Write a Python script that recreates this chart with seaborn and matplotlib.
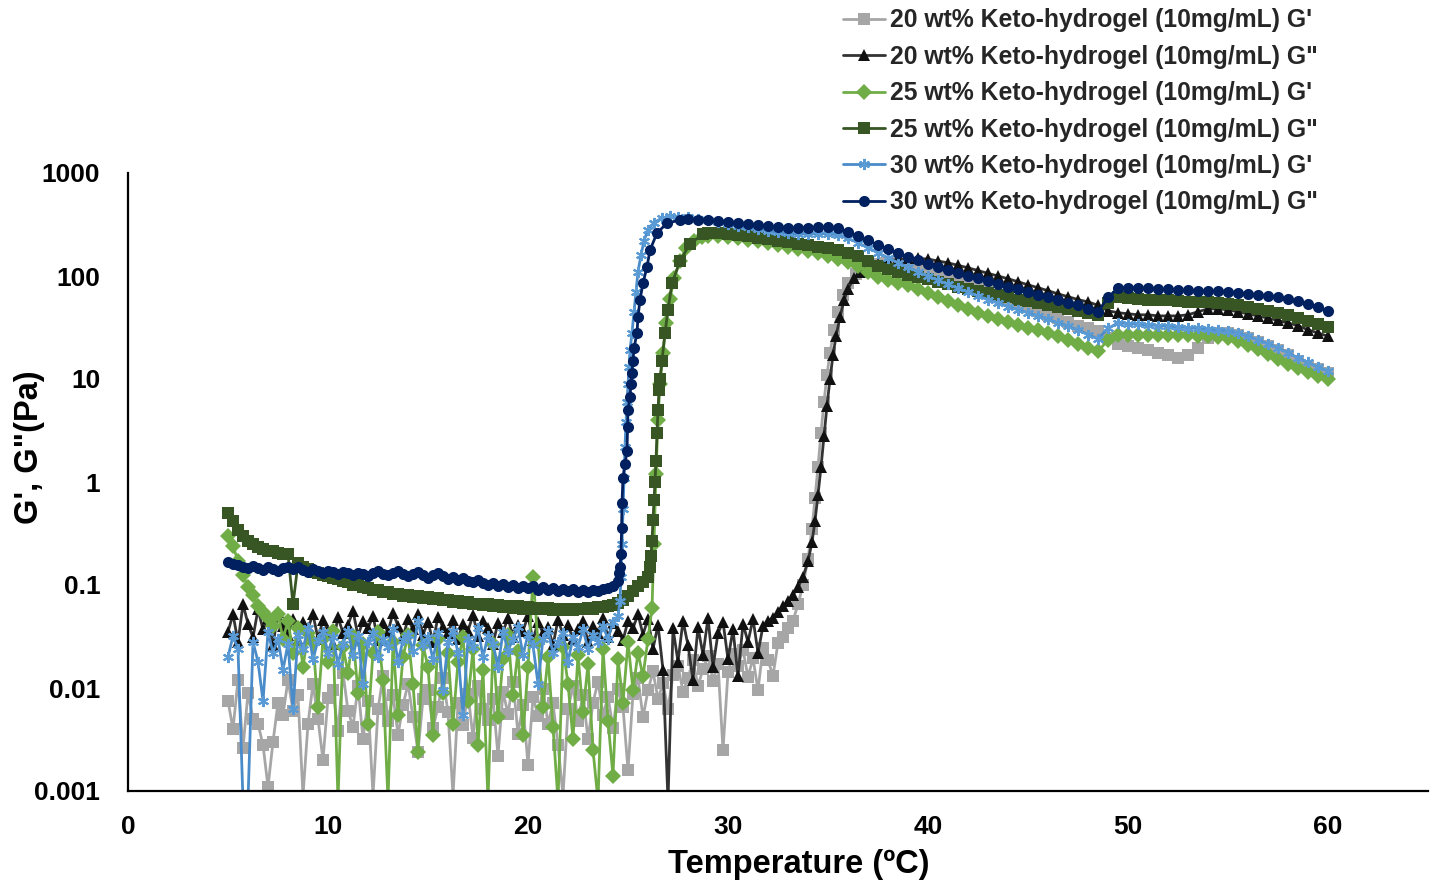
import numpy as np
import seaborn as sns
import matplotlib.pyplot as plt

# G' / G'' temperature sweeps of keto-hydrogels (log scale)
# each series: noisy sol region (0.25 degC step), explicit gelation ramp, gel region (0.5 degC step)

# --- 20 wt% G' ---
g20_p_low = [0.0075, 0.004, 0.012, 0.0026, 0.009, 0.005, 0.0045, 0.0028, 0.0011, 0.003,
             0.0072, 0.0055, 0.012, 0.006, 0.0085, 0.0009, 0.0045, 0.011, 0.005, 0.002,
             0.008, 0.0095, 0.0038, 0.014, 0.006, 0.0042, 0.0105, 0.0032, 0.0075, 0.0009,
             0.0062, 0.013, 0.0048, 0.0085, 0.0035, 0.0068, 0.011, 0.0052, 0.0024, 0.0078,
             0.0095, 0.0041, 0.0065, 0.0125, 0.0058, 0.0009, 0.0072, 0.0044, 0.0088, 0.0033,
             0.0105, 0.0062, 0.0049, 0.0078, 0.0022, 0.0092, 0.0056, 0.0115, 0.0036, 0.0068,
             0.0018, 0.0082, 0.0054, 0.0098, 0.0045, 0.0071, 0.0028, 0.0009, 0.0062, 0.0105,
             0.0048, 0.0085, 0.0032, 0.0072, 0.0115, 0.0055, 0.0082, 0.0041, 0.0098, 0.0065,
             0.0016, 0.0088, 0.0125, 0.0052, 0.0095, 0.0145, 0.0078, 0.0112, 0.0062, 0.0135,
             0.0165, 0.0092, 0.0125, 0.0185, 0.0105, 0.0152, 0.0205, 0.0118, 0.0172, 0.0025,
             0.0142, 0.0215, 0.0165, 0.0235, 0.0128, 0.0195, 0.0095, 0.0245, 0.0185, 0.0132,
             0.0275, 0.0315, 0.0385]
g20_p_ramp_t = [33.25, 33.5, 33.75, 34.0, 34.2, 34.35, 34.5, 34.65, 34.8, 34.95, 35.1,
                35.3, 35.5, 35.75, 36.0, 36.4, 36.8, 37.3, 37.8, 38.4, 39.0]
g20_p_ramp = [0.045, 0.065, 0.1, 0.18, 0.35, 0.7, 1.4, 3.0, 6, 11, 18,
              30, 45, 65, 85, 105, 120, 130, 135, 135, 130]
g20_p_high = [125, 118, 110, 102, 94, 86, 79, 72, 66, 60, 55, 50, 46, 42, 39, 36, 33, 31,
              29, 25, 22, 21, 20, 19, 18, 17, 16, 17, 20, 25, 28, 28, 27, 25, 23, 21, 19,
              17, 15, 13.5, 12.5, 11.5]

# --- 20 wt% G'' ---
g20_pp_low = [0.035, 0.052, 0.028, 0.065, 0.042, 0.031, 0.058, 0.037, 0.048, 0.026,
              0.055, 0.04, 0.033, 0.047, 0.029, 0.044, 0.038, 0.052, 0.03, 0.046,
              0.036, 0.027, 0.049, 0.034, 0.041, 0.056, 0.032, 0.045, 0.038, 0.05,
              0.029, 0.043, 0.035, 0.054, 0.04, 0.031, 0.047, 0.037, 0.052, 0.033,
              0.044, 0.028, 0.049, 0.039, 0.034, 0.046, 0.03, 0.042, 0.036, 0.051,
              0.032, 0.045, 0.038, 0.027, 0.043, 0.035, 0.048, 0.031, 0.041, 0.036,
              0.05, 0.029, 0.044, 0.034, 0.039, 0.026, 0.046, 0.033, 0.041, 0.03,
              0.037, 0.045, 0.028, 0.04, 0.034, 0.048, 0.031, 0.043, 0.036, 0.029,
              0.045, 0.038, 0.052, 0.033, 0.047, 0.024, 0.041, 0.015, 0.0008, 0.038,
              0.018, 0.045, 0.026, 0.012, 0.039, 0.021, 0.048, 0.016, 0.034, 0.044,
              0.019, 0.037, 0.013, 0.042, 0.028, 0.047, 0.022, 0.04, 0.045]
g20_pp_ramp_t = [32.25, 32.5, 32.75, 33.0, 33.25, 33.5, 33.75, 34.0, 34.2, 34.35, 34.5,
                 34.65, 34.8, 34.95, 35.1, 35.25, 35.4, 35.6, 35.8, 36.0, 36.3, 36.6,
                 37.0, 37.5, 38.0, 38.5, 39.0]
g20_pp_ramp = [0.048, 0.055, 0.062, 0.07, 0.08, 0.095, 0.12, 0.17, 0.26, 0.42, 0.75,
               1.4, 2.8, 5.5, 10, 17, 26, 40, 58, 75, 95, 110,
               122, 132, 140, 145, 148]
g20_pp_high = [148, 146, 140, 134, 127, 120, 113, 106, 100, 94, 88, 82, 77, 72, 67, 63, 59,
               56, 52, 46, 44, 43, 42, 42, 41, 41, 41, 42, 45, 48, 48, 47, 45, 43, 41, 39,
               37, 35, 33, 30, 28, 26]

# --- 25 wt% G' ---
g25_p_low = [0.30, 0.24, 0.17, 0.125, 0.095, 0.08, 0.062, 0.055, 0.048, 0.04,
             0.052, 0.03, 0.045, 0.022, 0.038, 0.016, 0.034, 0.028, 0.0065, 0.03,
             0.018, 0.036, 0.0008, 0.025, 0.014, 0.032, 0.009, 0.027, 0.0045, 0.022,
             0.035, 0.012, 0.0008, 0.028, 0.0055, 0.02, 0.033, 0.011, 0.0024, 0.026,
             0.016, 0.0035, 0.03, 0.009, 0.022, 0.0045, 0.018, 0.031, 0.0075, 0.024,
             0.0028, 0.015, 0.0008, 0.027, 0.0052, 0.019, 0.033, 0.0085, 0.023, 0.0035,
             0.016, 0.12, 0.028, 0.0065, 0.02, 0.0042, 0.0008, 0.025, 0.011, 0.0032,
             0.021, 0.0058, 0.017, 0.0025, 0.0008, 0.024, 0.0048, 0.0014, 0.019, 0.0072,
             0.028, 0.0095, 0.022, 0.013, 0.03]
g25_p_ramp_t = [26.2, 26.3, 26.4, 26.5, 26.6, 26.75, 26.9, 27.1, 27.3, 27.6, 27.9, 28.3,
                28.7, 29.0]
g25_p_ramp = [0.06, 0.25, 1.2, 4, 9, 18, 35, 60, 95, 140, 185, 220, 240, 245]
g25_p_high = [242, 238, 232, 225, 218, 210, 200, 192, 183, 175, 166, 157, 147, 136, 124,
              110, 98, 91, 86, 81, 75, 69, 63, 57, 52, 48, 44, 41, 38, 35.5, 33.5, 31.5,
              30, 28, 26, 24, 22, 20, 18.5, 24, 27, 27, 27, 27, 27, 26.5, 26.5, 26.5, 26,
              26, 25.5, 25, 23.5, 21.5, 19.5, 17.5, 15.5, 14, 12.8, 11.8, 10.8, 10]

# --- 25 wt% G'' ---
g25_pp_low = [0.50, 0.42, 0.34, 0.30, 0.27, 0.25, 0.236, 0.224, 0.216, 0.212,
              0.204, 0.201, 0.198, 0.065, 0.162, 0.149, 0.143, 0.134, 0.131, 0.125,
              0.123, 0.117, 0.115, 0.109, 0.107, 0.101, 0.1, 0.095, 0.094, 0.09,
              0.09, 0.086, 0.086, 0.082, 0.082, 0.079, 0.08, 0.077, 0.078, 0.075,
              0.076, 0.073, 0.074, 0.071, 0.072, 0.069, 0.07, 0.067, 0.068, 0.065,
              0.066, 0.064, 0.065, 0.062, 0.064, 0.061, 0.063, 0.06, 0.062, 0.059,
              0.061, 0.059, 0.06, 0.058, 0.06, 0.057, 0.059, 0.057, 0.059, 0.057,
              0.058, 0.058, 0.06, 0.059, 0.061, 0.061, 0.063, 0.064, 0.067, 0.071,
              0.078, 0.088, 0.098, 0.108, 0.12]
g25_pp_ramp_t = [26.1, 26.15, 26.2, 26.25, 26.3, 26.35, 26.4, 26.45, 26.5, 26.55, 26.6,
                 26.7, 26.85, 27.0, 27.2, 27.6, 28.1, 28.75, 29.0]
g25_pp_ramp = [0.15, 0.19, 0.27, 0.43, 0.67, 1.0, 1.6, 3.0, 5.0, 7.9, 10,
               15, 28, 47, 85, 140, 205, 255, 260]
g25_pp_high = [262, 258, 250, 242, 235, 228, 220, 212, 205, 198, 192, 186, 178, 168, 155,
               140, 126, 116, 109, 103, 98, 93, 88, 83, 79, 75, 71, 68, 65, 62, 59, 57,
               55, 52, 50, 48, 46, 44, 42, 55, 62, 61, 60, 59, 58.5, 58, 57, 56.5, 56,
               55.5, 55, 54, 52, 50, 48, 46, 44, 41.5, 39, 36.5, 34, 32]

# --- 30 wt% G' ---
g30_p_low = [0.02, 0.032, 0.024, 0.0008, 0.0008, 0.028, 0.018, 0.0075, 0.035, 0.022,
             0.03, 0.015, 0.027, 0.0062, 0.033, 0.024, 0.038, 0.019, 0.029, 0.035,
             0.022, 0.031, 0.017, 0.027, 0.036, 0.021, 0.032, 0.011, 0.028, 0.034,
             0.02, 0.03, 0.025, 0.037, 0.018, 0.029, 0.033, 0.023, 0.045, 0.026,
             0.031, 0.019, 0.034, 0.0095, 0.028, 0.036, 0.022, 0.0055, 0.03, 0.025,
             0.038, 0.02, 0.032, 0.027, 0.016, 0.035, 0.023, 0.03, 0.039, 0.021,
             0.033, 0.026, 0.011, 0.03, 0.036, 0.022, 0.028, 0.034, 0.018, 0.031,
             0.025, 0.037, 0.024, 0.033, 0.028, 0.04, 0.03, 0.044, 0.05]
g30_p_ramp_t = [24.6, 24.65, 24.7, 24.75, 24.8, 24.85, 24.9, 24.95, 25.0, 25.05, 25.1,
                25.2, 25.3, 25.4, 25.5, 25.65, 25.8, 26.0, 26.3, 26.7, 27.1, 27.5]
g30_p_ramp = [0.07, 0.12, 0.25, 0.55, 1.1, 2.2, 3.8, 6, 9, 13, 19,
              28, 45, 70, 110, 160, 220, 280, 330, 365, 380, 378]
g30_p_high = [370, 360, 348, 335, 322, 308, 296, 284, 274, 266, 260, 256, 256, 258, 258,
              250, 232, 210, 188, 168, 150, 135, 122, 110, 100, 91, 83, 76, 70, 64, 59,
              54.5, 50.5, 47, 44, 41, 38, 35, 32.5, 30, 27, 24.5, 31, 35, 34.5, 34, 33.5,
              33, 32.5, 32, 31.5, 31, 30.5, 30, 29.5, 28, 26, 24, 22, 20, 18, 16, 14.5,
              13, 12]

# --- 30 wt% G'' ---
g30_pp_low = [0.168, 0.16, 0.155, 0.15, 0.147, 0.152, 0.145, 0.14, 0.148, 0.143,
              0.138, 0.146, 0.15, 0.142, 0.148, 0.139, 0.135, 0.142, 0.137, 0.131,
              0.138, 0.133, 0.128, 0.135, 0.13, 0.125, 0.132, 0.127, 0.122, 0.13,
              0.136, 0.128, 0.124, 0.131, 0.138, 0.129, 0.122, 0.127, 0.133, 0.125,
              0.118, 0.124, 0.13, 0.121, 0.115, 0.12, 0.112, 0.117, 0.11, 0.106,
              0.112, 0.104, 0.099, 0.105, 0.098, 0.102, 0.096, 0.1, 0.094, 0.098,
              0.093, 0.097, 0.09, 0.095, 0.089, 0.093, 0.088, 0.092, 0.087, 0.091,
              0.086, 0.09, 0.085, 0.089, 0.087, 0.091, 0.094, 0.098, 0.11]
g30_pp_ramp_t = [24.55, 24.6, 24.65, 24.68, 24.7, 24.75, 24.85, 24.95, 24.98, 25.0, 25.1,
                 25.15, 25.2, 25.25, 25.3, 25.45, 25.5, 25.6, 25.75, 25.95, 26.1, 26.45,
                 26.95, 27.6, 28.0]
g30_pp_ramp = [0.13, 0.15, 0.2, 0.36, 0.63, 1.1, 1.5, 2.0, 3.4, 5, 6.7,
               9, 11.5, 15, 20, 28, 40, 59, 85, 123, 178, 262,
               325, 350, 354]
g30_pp_high = [352, 348, 343, 338, 330, 322, 314, 306, 300, 295, 292, 293, 296, 298, 290,
               268, 245, 222, 200, 182, 166, 153, 142, 132, 123, 115, 108, 101, 95, 89,
               84, 79, 74, 70, 66, 62, 58.5, 55, 52, 48, 45, 62, 76, 77, 76.5, 76, 75,
               74, 73, 72.5, 72, 71.5, 71, 70, 69, 67, 65.5, 64, 62, 59.5, 57, 53, 50, 46]

labels = ["20 wt% Keto-hydrogel (10mg/mL) G'", '20 wt% Keto-hydrogel (10mg/mL) G"',
          "25 wt% Keto-hydrogel (10mg/mL) G'", '25 wt% Keto-hydrogel (10mg/mL) G"',
          "30 wt% Keto-hydrogel (10mg/mL) G'", '30 wt% Keto-hydrogel (10mg/mL) G"']
y_ticks = [0.001, 0.01, 0.1, 1, 10, 100, 1000]
y_ticklabels = ['0.001', '0.01', '0.1', '1', '10', '100', '1000']
x_ticks = [0, 10, 20, 30, 40, 50, 60]


def grid(t0, step, vals):
    return t0 + step * np.arange(len(vals))


series = [
    (np.concatenate([grid(5.0, 0.25, g20_p_low), g20_p_ramp_t, grid(39.5, 0.5, g20_p_high)]),
     g20_p_low + g20_p_ramp + g20_p_high, '#a6a6a6', '#a6a6a6', 's', 9),
    (np.concatenate([grid(5.0, 0.25, g20_pp_low), g20_pp_ramp_t, grid(39.5, 0.5, g20_pp_high)]),
     g20_pp_low + g20_pp_ramp + g20_pp_high, '#333333', '#111111', '^', 9),
    (np.concatenate([grid(5.0, 0.25, g25_p_low), g25_p_ramp_t, grid(29.5, 0.5, g25_p_high)]),
     g25_p_low + g25_p_ramp + g25_p_high, '#70ad47', '#70ad47', 'D', 7.5),
    (np.concatenate([grid(5.0, 0.25, g25_pp_low), g25_pp_ramp_t, grid(29.5, 0.5, g25_pp_high)]),
     g25_pp_low + g25_pp_ramp + g25_pp_high, '#375623', '#375623', 's', 9.5),
    (np.concatenate([grid(5.0, 0.25, g30_p_low), g30_p_ramp_t, grid(28.0, 0.5, g30_p_high)]),
     g30_p_low + g30_p_ramp + g30_p_high, '#4a8bc9', '#5b9bd5', (6, 2, 0), 10),
    (np.concatenate([grid(5.0, 0.25, g30_pp_low), g30_pp_ramp_t, grid(28.5, 0.5, g30_pp_high)]),
     g30_pp_low + g30_pp_ramp + g30_pp_high, '#002060', '#002060', 'o', 9.5),
]

sns.set_theme(style='white')
plt.rcParams['font.family'] = ['Liberation Sans', 'DejaVu Sans']
plt.rcParams['font.weight'] = 'bold'

fig = plt.figure(figsize=(14.34, 8.82), dpi=100)
ax = fig.add_axes([128 / 1434, 91 / 882, 1300 / 1434, 618 / 882])

for (t, g, lc, mc, mk, ms), lab in zip(series, labels):
    sns.lineplot(x=t, y=g, ax=ax, color=lc, marker=mk, markersize=ms,
                 markerfacecolor=mc, markeredgecolor=mc,
                 markeredgewidth=1.5 if mk == (6, 2, 0) else 0,
                 linewidth=2.0, estimator=None, label=lab)

ax.set_yscale('log')
ax.set_ylim(0.001, 1000)
ax.set_xlim(0, 65)
ax.set_yticks(y_ticks)
ax.set_yticklabels(y_ticklabels)
ax.yaxis.set_minor_locator(plt.NullLocator())
ax.set_xticks(x_ticks)
ax.set_xticklabels([str(v) for v in x_ticks])

for side in ['top', 'right']:
    ax.spines[side].set_visible(False)
for side in ['left', 'bottom']:
    ax.spines[side].set_color('black')
    ax.spines[side].set_linewidth(1.6)

ax.tick_params(axis='both', direction='in', length=6, width=1.4, color='black',
               labelsize=19, labelcolor='black')
ax.tick_params(axis='y', pad=20)
ax.tick_params(axis='x', pad=17)
for lbl in ax.get_xticklabels() + ax.get_yticklabels():
    lbl.set_fontweight('bold')

ax.set_xlabel('Temperature (ºC)', fontsize=23.5, fontweight='bold', color='black')
ax.set_ylabel('G\', G"(Pa)', fontsize=23.5, fontweight='bold', color='black')
ax.xaxis.set_label_coords(0.516, -0.094)
ax.yaxis.set_label_coords(-0.064, 0.556)

handles, labs = ax.get_legend_handles_labels()
for h in handles:
    h.set_markersize(8)
ax.legend(handles, labs, loc='upper left', bbox_to_anchor=(838 / 1434, 0.996),
          bbox_transform=fig.transFigure, frameon=False,
          prop={'weight': 'bold', 'size': 17.8}, handlelength=1.7, handletextpad=0.2,
          labelspacing=0.5, borderpad=0.2, borderaxespad=0)

fig.savefig('out.png', dpi=100)
